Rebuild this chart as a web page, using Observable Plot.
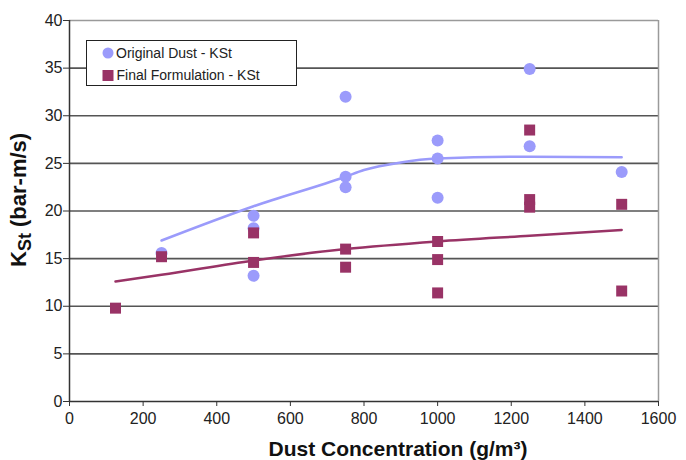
<!DOCTYPE html>
<html><head><meta charset="utf-8">
<script src="https://cdn.jsdelivr.net/npm/d3@7"></script>
<script src="https://cdn.jsdelivr.net/npm/@observablehq/plot@0.6"></script>
<style>body{margin:0;background:#fff;} #chart{position:relative;width:686px;height:460px;}</style>
</head><body><div id="chart"></div>
<script>
// Original Dust - KSt (circles)
const concOriginal = [250, 500, 500, 500, 750, 750, 750, 1000, 1000, 1000, 1250, 1250, 1500];
const kstOriginal  = [15.6, 19.5, 18.2, 13.2, 32.0, 23.6, 22.5, 27.4, 25.5, 21.4, 34.9, 26.8, 24.1];
// Final Formulation - KSt (squares)
const concFinal = [125, 250, 500, 500, 750, 750, 1000, 1000, 1000, 1250, 1250, 1250, 1500, 1500];
const kstFinal  = [9.8, 15.2, 17.7, 14.6, 16.0, 14.1, 16.8, 14.9, 11.4, 28.5, 21.2, 20.4, 20.7, 11.6];
// Trend lines
const trendOrigConc = [250, 500, 750, 800, 900, 1000, 1250, 1500];
const trendOrigKst  = [16.9, 20.5, 23.6, 24.3, 25.1, 25.5, 25.7, 25.65];
const trendFinalConc = [125, 250, 500, 750, 1000, 1250, 1500];
const trendFinalKst  = [12.6, 13.3, 14.8, 16.0, 16.8, 17.4, 18.0];
// Ticks
const xTicks = [0, 200, 400, 600, 800, 1000, 1200, 1400, 1600];
const yTicks = [0, 5, 10, 15, 20, 25, 30, 35, 40];

const seriesNames = ["Original Dust - KSt", "Final Formulation - KSt"];
const blue = "#9b9bfb", maroon = "#993366";
const font = "'Liberation Sans', Arial, sans-serif";

const orig = concOriginal.map((c, i) => ({c, k: kstOriginal[i]}));
const fin = concFinal.map((c, i) => ({c, k: kstFinal[i]}));
const tOrig = trendOrigConc.map((c, i) => ({c, k: trendOrigKst[i]}));
const tFin = trendFinalConc.map((c, i) => ({c, k: trendFinalKst[i]}));

const plot = Plot.plot({
  width: 686, height: 460,
  marginLeft: 69, marginRight: 28, marginTop: 20, marginBottom: 59,
  style: {fontFamily: font, fontSize: "16px", background: "#fff", color: "#222"},
  x: {domain: [0, 1600]},
  y: {domain: [0, 40]},
  marks: [
    Plot.ruleY(yTicks.filter(t => t > 0 && t < 40), {stroke: "#555", strokeWidth: 1.6}),
    Plot.ruleY([40], {stroke: "#9a9a9a", strokeWidth: 1.5}),
    Plot.ruleX([1600], {stroke: "#9a9a9a", strokeWidth: 1.5}),
    Plot.ruleY([0], {stroke: "#333", strokeWidth: 1.5}),
    Plot.ruleX([0], {stroke: "#333", strokeWidth: 1.5}),
    Plot.axisX({ticks: xTicks, tickFormat: d => String(d), tickSize: 5, tickPadding: 6, label: null, stroke: "#333", fill: "#222", fontSize: 16}),
    Plot.axisY({ticks: yTicks, tickFormat: d => String(d), tickSize: 6, tickPadding: 1, label: null, stroke: "#333", fill: "#222", fontSize: 16}),
    Plot.line(tOrig, {x: "c", y: "k", stroke: blue, strokeWidth: 2.5, curve: "monotone-x"}),
    Plot.line(tFin, {x: "c", y: "k", stroke: maroon, strokeWidth: 2.5, curve: "monotone-x"}),
    Plot.dot(orig, {x: "c", y: "k", r: 6, fill: blue}),
    Plot.dot(fin, {x: "c", y: "k", r: 6.2, symbol: "square", fill: maroon})
  ]
});
document.getElementById("chart").appendChild(plot);

const svg = d3.select(plot);
// X axis title
svg.append("text")
  .attr("x", 398).attr("y", 456)
  .attr("text-anchor", "middle")
  .attr("font-family", font)
  .attr("font-weight", "bold").attr("font-size", 21).attr("fill", "#111")
  .text("Dust Concentration (g/m³)");
// Y axis title
const yt = svg.append("text")
  .attr("transform", "translate(26,267) rotate(-90)")
  .attr("text-anchor", "start")
  .attr("font-family", font)
  .attr("font-weight", "bold").attr("font-size", 22).attr("fill", "#111");
yt.append("tspan").text("K");
yt.append("tspan").attr("font-size", 18).attr("dy", 5).text("St");
yt.append("tspan").attr("dy", -5).text(" (bar-m/s)");

// Legend
const lg = svg.append("g").attr("font-family", font).attr("font-size", 14).attr("text-anchor", "start");
lg.append("rect").attr("x", 86.5).attr("y", 40.5).attr("width", 210).attr("height", 45)
  .attr("fill", "#fff").attr("stroke", "#222").attr("stroke-width", 1);
lg.append("circle").attr("cx", 108).attr("cy", 53).attr("r", 5.5).attr("fill", blue);
lg.append("text").attr("x", 116).attr("y", 58).attr("fill", "#222").text(seriesNames[0]);
lg.append("rect").attr("x", 102.5).attr("y", 70).attr("width", 11).attr("height", 11).attr("fill", maroon);
lg.append("text").attr("x", 116.5).attr("y", 80).attr("fill", "#222").text(seriesNames[1]);
</script>
</body></html>
